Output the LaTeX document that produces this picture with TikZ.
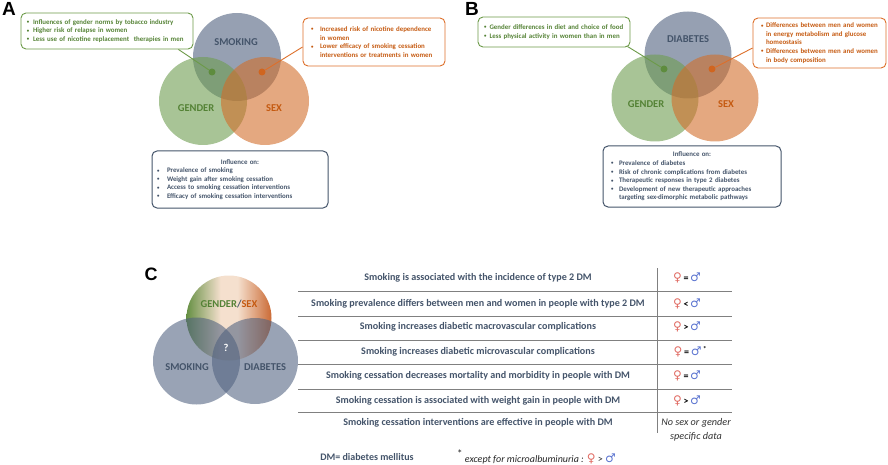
\documentclass[tikz,border=0pt]{standalone}
\usepackage{fontspec}
\setmainfont{Carlito}
\newfontfamily\arialfont{Liberation Sans}
\newfontfamily\symfont{DejaVu Sans}
\usetikzlibrary{calc}
\definecolor{slate}{HTML}{44546A}
\definecolor{gtxt}{HTML}{548235}
\definecolor{otxt}{HTML}{C55A11}
\definecolor{gline}{HTML}{6C9A48}
\definecolor{oline}{HTML}{DD6F2A}
\definecolor{smk}{RGB}{80,97,127}
\definecolor{gen}{RGB}{110,157,80}
\definecolor{sexc}{RGB}{210,110,43}
\definecolor{gdot}{HTML}{5E8C3E}
\definecolor{odot}{HTML}{D0651F}
\definecolor{femc}{HTML}{E06C64}
\definecolor{malec}{HTML}{5B74D0}
\definecolor{rulec}{HTML}{808080}
\definecolor{cgreen}{HTML}{5E8A3A}
\definecolor{cmid}{HTML}{F4DECB}
\definecolor{corange}{HTML}{C8622A}
\pgfdeclarehorizontalshading{gsshade}{100bp}{color(0bp)=(cgreen); color(25bp)=(cgreen); color(45bp)=(cmid); color(55bp)=(cmid); color(75bp)=(corange); color(100bp)=(corange)}
\newcommand{\bul}[1][7pt]{\makebox[#1][l]{\raisebox{0.6pt}{\fontsize{4.8}{4.8}\selectfont\textbullet}}}
\newcommand{\fem}{{\symfont\fontsize{12}{12}\selectfont\color{femc}♀}}
\newcommand{\male}{{\symfont\fontsize{12}{12}\selectfont\color{malec}♂}}
\begin{document}
\begin{tikzpicture}[x=1pt,y=-1pt]
\tikzset{
  venn/.style={circle, minimum size=#1, inner sep=0pt, fill opacity=0.6, draw=none},
  venn/.default=88pt,
  clabel/.style={font=\bfseries\fontsize{10.5}{12}\selectfont, inner sep=0pt},
  boxfont/.style={font=\bfseries\fontsize{6.9}{8.6}\selectfont},
  anybox/.style={boxfont, rounded corners=5pt, line width=0.9pt, align=left, inner ysep=0pt},
  gbox/.style={anybox, draw=gline, text=gtxt},
  obox/.style={anybox, draw=oline, text=otxt},
  bbox/.style={anybox, draw=slate, text=slate, line width=1pt},
  dotg/.style={circle, fill=gdot, inner sep=0pt, minimum size=7pt},
  doto/.style={circle, fill=odot, inner sep=0pt, minimum size=7pt},
  gconn/.style={draw=gline, line width=0.9pt},
  oconn/.style={draw=oline, line width=0.9pt},
  panel/.style={font=\arialfont\bfseries\fontsize{19}{20}\selectfont, inner sep=0pt},
  rowtext/.style={font=\bfseries\fontsize{10.1}{12}\selectfont, text=slate, inner sep=0pt},
  symtext/.style={font=\bfseries\fontsize{10}{11}\selectfont, inner sep=0pt},
  tabrule/.style={draw=rulec, line width=0.9pt},
}
\useasboundingbox (0,0) rectangle (888,465);

% ---------------- Panel A ----------------
\node[panel] (lA) at (9,9) {A};
\node[venn, fill=smk] (smA) at (237,57) {};
\node[venn, fill=gen] (geA) at (203,101) {};
\node[venn, fill=sexc] (seA) at (265,101) {};
\node[clabel, text=slate] (tsmA) at (236,42) {SMOKING};
\node[clabel, text=gtxt] (tgeA) at (196,108) {GENDER};
\node[clabel, text=otxt] (tseA) at (274,108) {SEX};
\node[dotg] (dgA) at (212,72) {};
\node[doto] (doA) at (262,72) {};

\node[gbox, text width=160pt, inner xsep=6pt, minimum height=36pt] (gA) at (107,31)
 {\bul[6pt]Influences of gender norms by tobacco industry\\
  \bul[6pt]Higher risk of relapse in women\\
  \bul[6pt]Less use of nicotine replacement\ \ therapies in men};
\node[obox, text width=126pt, inner xsep=8pt, minimum height=48pt] (oA) at (374,42)
 {\bul[9pt]Increased risk of nicotine dependence\\
  \hspace*{9pt}in women\\
  \bul[9pt]Lower efficacy of smoking cessation\\
  \hspace*{9pt}interventions or treatments in women};
\node[bbox, text width=166pt, inner xsep=5pt, minimum height=57pt] (bA) at (240,179.5)
 {\makebox[166pt][c]{Influence on:}\\
  \bul[10pt]Prevalence of smoking\\
  \bul[10pt]Weight gain after smoking cessation\\
  \bul[10pt]Access to smoking cessation interventions\\
  \bul[10pt]Efficacy of smoking cessation interventions};
\draw[gconn] (dgA) -- ($(gA.south east)+(-15,0)$);
\draw[oconn] (doA) -- ($(oA.west)+(0,5)$);

% ---------------- Panel B ----------------
\node[panel] (lB) at (472,9) {B};
\node[venn=87pt, fill=smk] (diB) at (688,55) {};
\node[venn=87pt, fill=gen] (geB) at (655,98) {};
\node[venn=87pt, fill=sexc] (seB) at (715,98) {};
\node[clabel, text=slate] (tdiB) at (688,39) {DIABETES};
\node[clabel, text=gtxt] (tgeB) at (646,104) {GENDER};
\node[clabel, text=otxt] (tseB) at (726,104) {SEX};
\node[dotg] (dgB) at (664,69) {};
\node[doto] (doB) at (712,69) {};

\node[gbox, text width=140pt, inner xsep=6pt, minimum height=30pt] (gB) at (554,32)
 {\bul[5.5pt]Gender differences in diet and choice of food\\
  \bul[5.5pt]Less physical activity in women than in men};
\node[obox, text width=117pt, inner xsep=8pt, minimum height=50pt] (oB) at (819.5,43)
 {\bul[5pt]Differences between men and women\\
  \hspace*{5pt}in energy metabolism and glucose\\
  \hspace*{5pt}homeostasis\\
  \bul[5pt]Differences between men and women\\
  \hspace*{5pt}in body composition};
\node[bbox, text width=162pt, inner xsep=8pt, minimum height=61pt] (bB) at (692,176.5)
 {\makebox[162pt][c]{Influence on:}\\
  \bul[8pt]Prevalence of diabetes\\
  \bul[8pt]Risk of chronic complications from diabetes\\
  \bul[8pt]Therapeutic responses in type 2 diabetes\\
  \bul[8pt]Development of new therapeutic approaches\\
  \hspace*{8pt}targeting sex-dimorphic metabolic pathways};
\draw[gconn] (dgB) -- ($(gB.south east)+(-3,-1)$);
\draw[oconn] (doB) -- ($(oB.west)+(0,5)$);

% ---------------- Panel C ----------------
\node[panel, font=\arialfont\bfseries\fontsize{18}{20}\selectfont] (lC) at (151,274) {C};
\node[circle, minimum size=85pt, inner sep=0pt, shading=gsshade, fill opacity=0.95] (gsC) at (229,318) {};
\node[venn=87pt, fill=smk, fill opacity=0.58] (smC) at (196.5,361) {};
\node[venn=86pt, fill=smk, fill opacity=0.58] (diC) at (255,361) {};
\node[clabel] (tgsC) at (229,304) {\textcolor{gtxt}{GENDER}\textcolor{slate}{/}\textcolor{otxt}{SEX}};
\node[clabel, text=white] (tqC) at (226,348) {?};
\node[clabel, text=slate] (tsmC) at (187,367) {SMOKING};
\node[clabel, text=slate] (tdiC) at (265,367) {DIABETES};

% table
\draw[tabrule] (657,268) -- (657,433);
\foreach \yy in {291,316,340,364,389,412}{
  \draw[tabrule] (298,\yy) -- (732,\yy);
}
\node[rowtext] (r1) at (478,278) {Smoking is associated with the incidence of type 2 DM};
\node[rowtext] (r2) at (478,304) {Smoking prevalence differs between men and women in people with type 2 DM};
\node[rowtext] (r3) at (478,327) {Smoking increases diabetic macrovascular complications};
\node[rowtext] (r4) at (478,352) {Smoking increases diabetic microvascular complications};
\node[rowtext] (r5) at (478,376) {Smoking cessation decreases mortality and morbidity in people with DM};
\node[rowtext] (r6) at (478,401) {Smoking cessation is associated with weight gain in people with DM};
\node[rowtext] (r7) at (478,423) {Smoking cessation interventions are effective in people with DM};

\node[symtext] (s1) at (687,278) {\fem\,=\,\male};
\node[symtext] (s2) at (687,304) {\fem\,<\,\male};
\node[symtext] (s3) at (687,327) {\fem\,>\,\male};
\node[symtext, anchor=west] (s4) at (673.5,352) {\fem\,=\,\male\,\raisebox{4pt}{\fontsize{7}{7}\selectfont *}};
\node[symtext] (s5) at (687,376) {\fem\,=\,\male};
\node[symtext] (s6) at (687,401) {\fem\,>\,\male};
\node[font=\itshape\fontsize{10.2}{14}\selectfont, text=black!80, align=center, inner sep=0pt] (s7) at (696,430) {No sex or gender\\specific data};

\node[font=\bfseries\fontsize{10}{11}\selectfont, text=slate, inner sep=0pt] (fn1) at (367,457) {DM= diabetes mellitus};
\node[font=\fontsize{10}{11}\selectfont, text=black!85, inner sep=0pt, anchor=west] (fn2) at (457,457)
 {\raisebox{5pt}{\fontsize{11}{11}\selectfont *}\ \textit{except for microalbuminuria :} \fem\ >\ \male};
\end{tikzpicture}
\end{document}
